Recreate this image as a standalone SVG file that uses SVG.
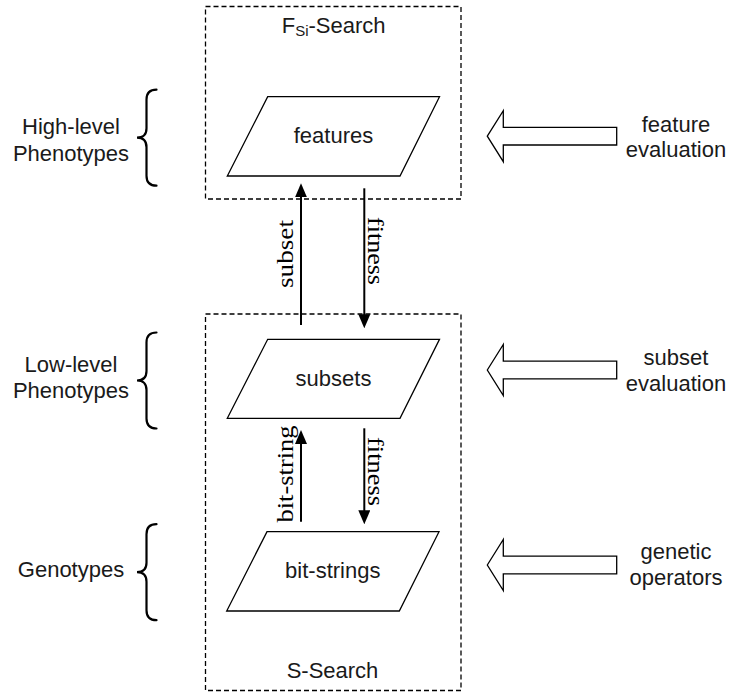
<svg xmlns="http://www.w3.org/2000/svg" width="730" height="693" viewBox="0 0 730 693">
<style>
.box{fill:none;stroke:#000;stroke-width:1.3;stroke-dasharray:5,3}
.para{fill:#fff;stroke:#000;stroke-width:1.3}
.t{font-family:"Liberation Sans",Arial,sans-serif;font-size:22px;fill:#1a1a1a}
.c{text-anchor:middle}
.s{font-family:"Liberation Serif","Times New Roman",serif;font-size:23px;fill:#000;text-anchor:middle}
.conn{stroke:#000;stroke-width:2;fill:none}
.brace{fill:none;stroke:#000;stroke-width:2.2;stroke-linecap:round}
.barrow{fill:#fff;stroke:#000;stroke-width:1.3;stroke-linejoin:miter}
</style>
<defs>
<marker id="ah" markerUnits="userSpaceOnUse" viewBox="0 0 14 12" refX="2" refY="6" markerWidth="14" markerHeight="12" orient="auto">
<path d="M0,0 L14,6 L0,12 Z" fill="#000"/>
</marker>
<path id="brace" d="M156.5,-48 Q146.5,-48 146.5,-38 L146.5,-9.5 Q146.5,0 137,0 Q146.5,0 146.5,9.5 L146.5,38 Q146.5,48 156.5,48"/>
<path id="barrow" d="M487.3,0 L503.3,-25.5 L503.3,-8.8 L616.7,-8.8 L616.7,8.8 L503.3,8.8 L503.3,25.5 Z"/>
</defs>
<rect width="730" height="693" fill="#fff"/>

<g id="fsi-search">
<rect class="box" x="205.5" y="6.5" width="255.5" height="192.5"/>
<text class="t" x="281.7" y="33.3">F<tspan font-size="15" dy="3">Si</tspan><tspan dy="-3">-Search</tspan></text>
</g>
<g id="s-search">
<rect class="box" x="205.5" y="314" width="255.5" height="376.5"/>
<text class="t c" x="332.5" y="678.3">S-Search</text>
</g>

<g id="features">
<polygon class="para" points="267.7,96.7 439.5,96.7 400,176 227.3,176"/>
<text class="t c" x="333.5" y="143.3">features</text>
</g>
<g id="subsets">
<polygon class="para" points="267.7,339.3 439.5,339.3 400,418.3 227.3,418.3"/>
<text class="t c" x="333.5" y="385.8">subsets</text>
</g>
<g id="bit-strings">
<polygon class="para" points="267,531.7 439,531.7 399.3,611 226.7,611"/>
<text class="t c" x="332.8" y="578.3">bit-strings</text>
</g>

<g id="connectors">
<line class="conn" x1="301" y1="325" x2="301" y2="195.3" marker-end="url(#ah)"/>
<line class="conn" x1="364.3" y1="188.3" x2="364.3" y2="316.3" marker-end="url(#ah)"/>
<line class="conn" x1="301" y1="521.7" x2="301" y2="442" marker-end="url(#ah)"/>
<line class="conn" x1="364.3" y1="428.3" x2="364.3" y2="512.3" marker-end="url(#ah)"/>
<text class="s" transform="translate(293,254) rotate(-90)" textLength="68" lengthAdjust="spacingAndGlyphs">subset</text>
<text class="s" transform="translate(368,251) rotate(90)" textLength="68" lengthAdjust="spacingAndGlyphs">fitness</text>
<text class="s" transform="translate(292.5,474) rotate(-90)" textLength="97" lengthAdjust="spacingAndGlyphs">bit-string</text>
<text class="s" transform="translate(368,471.5) rotate(90)" textLength="69" lengthAdjust="spacingAndGlyphs">fitness</text>
</g>

<g id="high-level">
<use href="#brace" class="brace" transform="translate(0,137.7)"/>
<text class="t c" x="71" y="134.3">High-level</text>
<text class="t c" x="71" y="161.3">Phenotypes</text>
</g>
<g id="low-level">
<use href="#brace" class="brace" transform="translate(0,380.5)"/>
<text class="t c" x="71" y="371.7">Low-level</text>
<text class="t c" x="71" y="397.7">Phenotypes</text>
</g>
<g id="genotypes">
<use href="#brace" class="brace" transform="translate(0,572.2)"/>
<text class="t c" x="71" y="577.3">Genotypes</text>
</g>

<g id="feature-evaluation">
<use href="#barrow" class="barrow" transform="translate(0,136.2)"/>
<text class="t c" x="676" y="131.7">feature</text>
<text class="t c" x="676" y="156.7">evaluation</text>
</g>
<g id="subset-evaluation">
<use href="#barrow" class="barrow" transform="translate(0,370)"/>
<text class="t c" x="676" y="365">subset</text>
<text class="t c" x="676" y="391">evaluation</text>
</g>
<g id="genetic-operators">
<use href="#barrow" class="barrow" transform="translate(0,565)"/>
<text class="t c" x="676" y="559">genetic</text>
<text class="t c" x="676" y="585">operators</text>
</g>
</svg>
